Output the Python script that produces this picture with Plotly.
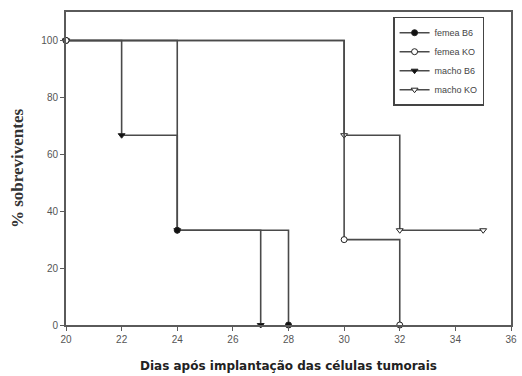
import plotly.graph_objects as go

# Data (Kaplan-Meier style survival steps)
femea_b6_x = [20, 24, 28]
femea_b6_y = [100, 33.3, 0]
femea_ko_x = [20, 30, 32]
femea_ko_y = [100, 30, 0]
macho_b6_x = [20, 22, 24, 27]
macho_b6_y = [100, 66.7, 33.3, 0]
macho_ko_x = [20, 30, 32, 35]
macho_ko_y = [100, 66.7, 33.3, 33.3]

x_ticks = [20, 22, 24, 26, 28, 30, 32, 34, 36]
y_ticks = [0, 20, 40, 60, 80, 100]

LINE = "#4a4a4a"
fig = go.Figure()

def add(name, xs, ys, symbol, rank, fillc):
    fig.add_trace(go.Scatter(
        x=xs, y=ys, name=name, mode="lines+markers",
        line=dict(shape="hv", color=LINE, width=1.6),
        marker=dict(symbol=symbol, size=6, color=fillc,
                    line=dict(color="#222", width=1)),
        legendrank=rank, cliponaxis=False,
    ))

add("macho KO", macho_ko_x, macho_ko_y, "triangle-down", 4, "white")
add("macho B6", macho_b6_x, macho_b6_y, "triangle-down", 3, "#111")
add("femea B6", femea_b6_x, femea_b6_y, "circle", 1, "#111")
add("femea KO", femea_ko_x, femea_ko_y, "circle", 2, "white")

axis_common = dict(
    showline=True, linecolor="#5a5a5a", linewidth=2, mirror=True,
    ticks="outside", ticklen=4, tickcolor="#5a5a5a", tickwidth=1,
    showgrid=False, zeroline=False,
    tickfont=dict(family="Arial, Liberation Sans", size=10, color="#555"),
)

fig.update_layout(
    width=522, height=376,
    margin=dict(l=66, r=5, t=12, b=51),
    paper_bgcolor="white", plot_bgcolor="white",
    showlegend=True,
    legend=dict(
        x=0.735, y=0.985, xanchor="left", yanchor="top",
        bordercolor="#444", borderwidth=1.5, bgcolor="white",
        font=dict(family="Arial, Liberation Sans", size=9, color="#444"),
        tracegroupgap=0, itemwidth=30,
    ),
    xaxis=dict(range=[20, 36], tickvals=x_ticks,
               title=dict(text="<b>Dias após implantação das células tumorais</b>",
                          font=dict(family="DejaVu Sans", size=12, color="#222"),
                          standoff=18),
               **axis_common),
    yaxis=dict(range=[0, 110], tickvals=y_ticks,
               title=dict(text="<b>% sobreviventes</b>",
                          font=dict(family="Liberation Serif, Times New Roman", size=17, color="#333"),
                          standoff=13),
               **axis_common),
)

fig.write_html("out.html")
